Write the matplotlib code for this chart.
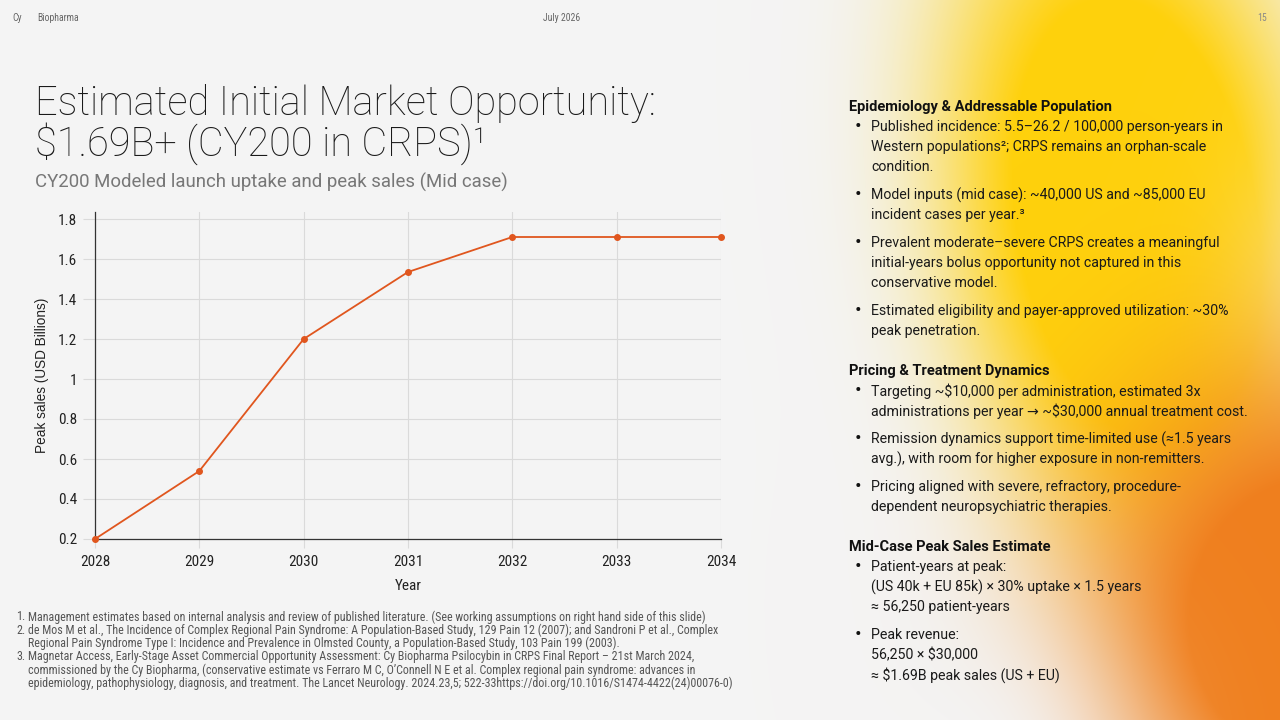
import numpy as np
import matplotlib
matplotlib.use("Agg")
import matplotlib.pyplot as plt
from matplotlib import font_manager

# chart data
years = [2028, 2029, 2030, 2031, 2032, 2033, 2034]
peak_sales = [0.20, 0.54, 1.20, 1.535, 1.71, 1.71, 1.71]
y_ticks = [0.2, 0.4, 0.6, 0.8, 1.0, 1.2, 1.4, 1.6, 1.8]
y_tick_labels = ["0.2", "0.4", "0.6", "0.8", "1", "1.2", "1.4", "1.6", "1.8"]

title = "Estimated Initial Market Opportunity:\n$1.69B+ (CY200 in CRPS)\u00b9"
subtitle = "CY200 Modeled launch uptake and peak sales (Mid case)"

footnotes = [
    ("1.", ["Management estimates based on internal analysis and review of published literature. (See working assumptions on right hand side of this slide)"]),
    ("2.", ["de Mos M et al., The Incidence of Complex Regional Pain Syndrome: A Population-Based Study, 129 Pain 12 (2007); and Sandroni P et al., Complex",
            "Regional Pain Syndrome Type I: Incidence and Prevalence in Olmsted County, a Population-Based Study, 103 Pain 199 (2003)."]),
    ("3.", ["Magnetar Access, Early-Stage Asset Commercial Opportunity Assessment: Cy Biopharma Psilocybin in CRPS Final Report \u2013 21st March 2024,",
            "commissioned by the Cy Biopharma, (conservative estimate vs Ferraro M C, O\u2019Connell N E et al. Complex regional pain syndrome: advances in",
            "epidemiology, pathophysiology, diagnosis, and treatment. The Lancet Neurology. 2024.23,5; 522-33https://doi.org/10.1016/S1474-4422(24)00076-0)"]),
]

sections = [
    ("Epidemiology & Addressable Population", [
        ["Published incidence: 5.5\u201326.2 / 100,000 person-years in",
         "Western populations\u00b2; CRPS remains an orphan-scale",
         "condition."],
        ["Model inputs (mid case): ~40,000 US and ~85,000 EU",
         "incident cases per year.\u00b3"],
        ["Prevalent moderate\u2013severe CRPS creates a meaningful",
         "initial-years bolus opportunity not captured in this",
         "conservative model."],
        ["Estimated eligibility and payer-approved utilization: ~30%",
         "peak penetration."],
    ]),
    ("Pricing & Treatment Dynamics", [
        ["Targeting ~$10,000 per administration, estimated 3x",
         "administrations per year \u2192 ~$30,000 annual treatment cost."],
        ["Remission dynamics support time-limited use (\u22481.5 years",
         "avg.), with room for higher exposure in non-remitters."],
        ["Pricing aligned with severe, refractory, procedure-",
         "dependent neuropsychiatric therapies."],
    ]),
    ("Mid-Case Peak Sales Estimate", [
        ["Patient-years at peak:",
         "(US 40k + EU 85k) \u00d7 30% uptake \u00d7 1.5 years",
         "\u2248 56,250 patient-years"],
        ["Peak revenue:",
         "56,250 \u00d7 $30,000",
         "\u2248 $1.69B peak sales (US + EU)"],
    ]),
]

W, H = 1280, 720
ttf = font_manager.fontManager.ttflist
installed = {f.name for f in ttf}
narrow_pick = [n for n in ("Roboto Condensed", "Liberation Sans Narrow") if n in installed]
NARROW = narrow_pick[:1] + ["Roboto", "DejaVu Sans"]
BODY = ["Roboto", "DejaVu Sans"]
LIGHT = "light" if any(f.name == "Roboto" and f.weight in (300, "light") for f in ttf) else "normal"
LINE = "#E0561E"


def px(x, y):
    return x / W, 1 - y / H


def fit_width(text_obj, target_px):
    # shrink/grow a text until it spans the wanted width in pixels
    fig.canvas.draw()
    width = text_obj.get_window_extent().width
    text_obj.set_fontsize(text_obj.get_fontsize() * target_px / width)


def background():
    xx, yy = np.meshgrid(np.arange(W), np.arange(H))
    base = np.array([0.957, 0.957, 0.957])
    yellow = np.array([1.0, 0.82, 0.05])
    orange = np.array([0.94, 0.50, 0.12])
    pale = np.array([0.98, 0.92, 0.62])
    img = np.ones((H, W, 3)) * base
    d = ((xx - 1140 - (yy - 250) * 0.12) / 180) ** 2 + ((yy - 220) / 330) ** 2
    wy = np.clip(1.35 * np.exp(-d ** 1.4 * 0.9), 0, 1)[..., None]
    img = img * (1 - wy) + yellow * wy
    d = ((xx - 1330) / 90) ** 2 + ((yy - 300) / 160) ** 2
    wp = (0.8 * np.exp(-d))[..., None]
    img = img * (1 - wp) + pale * wp
    d = ((xx - 1320) / 230) ** 2 + ((yy - 620) / 250) ** 2
    wo = np.clip(1.3 * np.exp(-d ** 1.2), 0, 1)[..., None]
    img = img * (1 - wo) + orange * wo
    d = ((xx - 960) / 150) ** 2 + ((yy - 770) / 150) ** 2
    wg = (0.9 * np.exp(-d))[..., None]
    img = img * (1 - wg) + base * wg
    return np.clip(img, 0, 1)


fig = plt.figure(figsize=(12.8, 7.2), dpi=100)
bg = fig.add_axes([0, 0, 1, 1], zorder=-10)
bg.imshow(background(), extent=[0, W, H, 0], aspect="auto", interpolation="bilinear")
bg.axis("off")

# header
fig.text(*px(12, 18), "Cy", fontsize=7, color="#666666", family=NARROW, va="center")
fig.text(*px(37, 18), "Biopharma", fontsize=7, color="#666666", family=NARROW, va="center")
fig.text(*px(562, 18), "July 2026", fontsize=7, color="#666666", family=NARROW, va="center", ha="center")
fig.text(*px(1267, 18), "15", fontsize=7, color="#888888", family=NARROW, va="center", ha="right")

# title
tt = fig.text(*px(35, 84), title, fontsize=28, color="#1a1a1a", family=BODY, weight=LIGHT,
              va="top", linespacing=0.98)
fit_width(tt, 622)
st = fig.text(*px(35, 182), subtitle, fontsize=14, color="#777777", family=BODY, va="center")
fit_width(st, 478)

# chart
ax = fig.add_axes([95 / W, 1 - 539 / H, 626 / W, 327 / H])
ax.patch.set_alpha(0)
ax.plot(years, peak_sales, color=LINE, lw=1.3, marker="o", ms=4, zorder=3, clip_on=False)
ax.set_xlim(2028, 2034)
ax.set_ylim(0.2, 1.835)
ax.set_xticks(years)
ax.set_yticks(y_ticks)
ax.set_yticklabels(y_tick_labels)
ax.grid(True, color="#DADADA", lw=0.8)
ax.set_axisbelow(True)
for side in ("top", "right"):
    ax.spines[side].set_visible(False)
for side in ("left", "bottom"):
    ax.spines[side].set_color("#333333")
    ax.spines[side].set_linewidth(0.9)
ax.tick_params(axis="y", length=9, width=0.8, pad=4, color="#DADADA")
ax.tick_params(axis="x", length=6.5, width=0.8, pad=5, color="#DADADA")
ax.tick_params(axis="both", labelsize=11, labelcolor="#222222")
for lab in ax.get_xticklabels() + ax.get_yticklabels():
    lab.set_family(NARROW)
ax.set_xlabel("Year", fontsize=11, family=NARROW, color="#222222", labelpad=7)
ax.set_ylabel("Peak sales (USD Billions)", fontsize=9.8, family=["Liberation Sans", "DejaVu Sans"],
              color="#222222", labelpad=6)

# footnotes
y = 617
note_size = 7.5
for num, lines in footnotes:
    num_text = fig.text(*px(16, y), num, fontsize=note_size, color="#555555", family=NARROW, va="center")
    for line in lines:
        ft = fig.text(*px(28, y), line, fontsize=note_size, color="#555555", family=NARROW, va="center")
        if line.startswith("Management"):
            fit_width(ft, 680)
            note_size = ft.get_fontsize()
            num_text.set_fontsize(note_size)
        y += 13.3

# right panel
y = 107
for s_idx, (heading, bullets) in enumerate(sections):
    if s_idx:
        y += 40
    fig.text(*px(849, y), heading, fontsize=10.5, fontweight="bold", color="#111111", family=BODY, va="center")
    y += 20
    for b_idx, bullet in enumerate(bullets):
        if b_idx:
            y += 28
        fig.text(*px(858, y), "\u2022", fontsize=14, color="#111111", family=BODY, va="center", ha="center")
        for l_idx, line in enumerate(bullet):
            if l_idx:
                y += 20
            fig.text(*px(871, y), line, fontsize=10.2, color="#1a1a1a", family=BODY, va="center")

fig.savefig("out.png", dpi=100)
